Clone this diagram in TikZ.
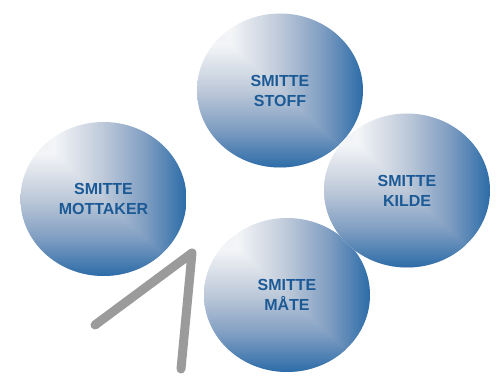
\documentclass[tikz,border=0pt]{standalone}
\usepackage{fontspec}
\setmainfont{Liberation Sans}
\usepackage{xcolor}
\usetikzlibrary{shapes.geometric}
\definecolor{ballrim}{HTML}{E6EAF0}
\definecolor{ballhi}{HTML}{F4F5F7}
\definecolor{ballmid}{HTML}{BDC9D9}
\definecolor{balldeep}{HTML}{809EC2}
\definecolor{ballblue}{HTML}{2C6CA8}
\definecolor{balltext}{HTML}{1C5A96}
\definecolor{pathgray}{HTML}{9B9B9B}
\pgfdeclarehorizontalshading{ballacross}{100bp}{color(0bp)=(ballrim); color(25bp)=(ballrim);
  color(35bp)=(ballhi); color(50bp)=(ballmid); color(62.5bp)=(balldeep); color(75bp)=(ballblue);
  color(100bp)=(ballblue)}
\pgfdeclareverticalshading{balldown}{100bp}{color(0bp)=(ballblue); color(25bp)=(ballblue);
  color(37.5bp)=(balldeep); color(50bp)=(ballmid); color(65bp)=(ballhi); color(75bp)=(ballrim);
  color(100bp)=(ballrim)}
\tikzset{
  ball/.style={ellipse, minimum width=166pt, minimum height=154pt, inner sep=0pt,
    align=center, text=balltext, font=\bfseries\fontsize{16}{20}\selectfont,
    path picture={
      \shade[shading=ballacross]
        (path picture bounding box.south west) rectangle (path picture bounding box.north east);
      \shade[shading=balldown]
        (path picture bounding box.north west) -- (path picture bounding box.south east)
        -- (path picture bounding box.south west) -- cycle;
    }},
  route/.style={draw=pathgray, line width=9pt, line cap=round, line join=round},
}
\begin{document}
\begin{tikzpicture}[x=1pt, y=1pt]
\useasboundingbox (0,0) rectangle (498,377);

\node[ball] (c_stoff) at (280, 286.5) {SMITTE\\STOFF};
\node[ball] (c_mott) at (103.5, 178) {SMITTE\\MOTTAKER};
\node[ball] (c_maate) at (287, 82) {SMITTE\\MÅTE};
\node[ball] (c_kilde) at (407, 186.5) {SMITTE\\KILDE};

\coordinate (v_start) at (95, 52);
\coordinate (v_top) at (192, 124);
\coordinate (v_end) at (181, 8);
\draw[route] (v_start) -- (v_top) -- (v_end);

\end{tikzpicture}
\end{document}
